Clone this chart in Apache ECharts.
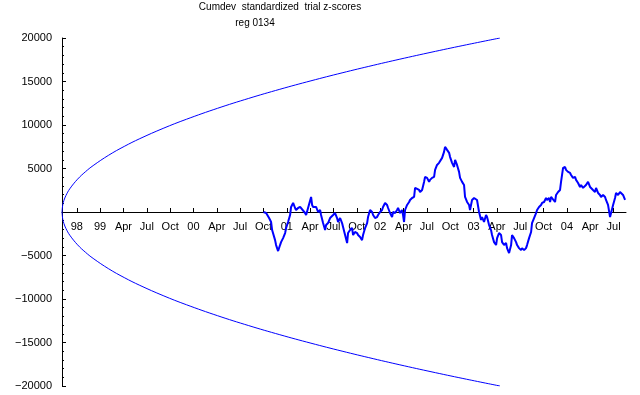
<!DOCTYPE html>
<html>
<head>
<meta charset="utf-8">
<script src="https://cdn.jsdelivr.net/npm/echarts@6/dist/echarts.min.js"></script>
<style>
  html, body { margin: 0; padding: 0; background: #fff; }
  #chart { width: 640px; height: 395px; }
</style>
</head>
<body>
<div id="chart"></div>
<script>
// x values are months counted from Jan 1998
var tickMonths = [9, 12, 15, 18, 21, 24, 27, 30, 33, 36, 39, 42, 45, 48, 51, 54, 57, 60, 63, 66, 69, 72, 75, 78];
var tickLabels = ['98', '99', 'Apr', 'Jul', 'Oct', '00', 'Apr', 'Jul', 'Oct', '01', 'Apr', 'Jul', 'Oct',
                  '02', 'Apr', 'Jul', 'Oct', '03', 'Apr', 'Jul', 'Oct', '04', 'Apr', 'Jul'];

// envelope (upper branch, lower branch is its mirror)
var envMonth = [7.1, 7.2, 7.35, 7.6, 8.1, 9.1, 10.1, 11.1, 13.1, 15.1, 17.1, 20.1, 23.1, 27.1, 31.1, 35.1,
                39.1, 43.1, 47.1, 51.1, 55.1, 59.1, 63.4];
var envValue = [0, 843, 1333, 1885, 2666, 3770, 4617, 5331, 6529, 7539, 8429, 9611, 10662, 11921, 13058, 14105,
                15078, 15993, 16858, 17681, 18467, 19221, 20000];

// cumulative deviation
var walkMonth = [33.0, 33.08, 33.34, 33.72, 33.98, 34.11, 34.49, 34.62, 34.88, 35.13, 35.26, 35.52, 35.78, 35.91,
  36.16, 36.42, 36.55, 36.81, 37.06, 37.19, 37.45, 37.71, 37.83, 38.35, 38.48, 38.73, 39.12, 39.25, 39.38, 39.63,
  39.76, 40.02, 40.28, 40.40, 40.66, 40.92, 41.05, 41.30, 41.56, 41.69,
  41.95, 42.20, 42.46, 42.59, 42.85, 43.10, 43.23, 43.49, 43.75, 43.87, 44.13, 44.39, 44.52, 44.77, 45.03, 45.16,
  45.42, 45.67, 45.80, 46.06, 46.32, 46.44, 46.70, 46.96, 47.09, 47.34, 47.60, 47.73, 47.99, 48.24, 48.37, 48.63,
  48.89, 49.02, 49.27, 49.53, 49.66, 49.92, 50.17, 50.30, 50.56, 50.81, 50.94,
  51.07, 51.20, 51.46, 51.72, 51.84, 52.10, 52.36, 52.49, 52.74, 53.00, 53.13, 53.39, 53.64, 53.77, 54.03, 54.29,
  54.41, 54.67, 54.93, 55.06, 55.31, 55.57, 55.70, 55.96, 56.21, 56.34, 56.60, 56.86, 56.98, 57.24, 57.50, 57.63,
  57.88, 58.14, 58.27, 58.53, 58.78, 58.91, 59.17, 59.43, 59.55, 59.81, 60.07, 60.20,
  60.45, 60.71, 60.97, 61.10, 61.35, 61.61, 61.74, 62.00, 62.25, 62.38, 62.64, 62.90, 63.03, 63.28, 63.54, 63.67,
  63.93, 64.18, 64.31, 64.57, 64.83, 64.95, 65.21, 65.47, 65.60, 65.85, 66.11, 66.24, 66.50, 66.75, 66.88, 67.14,
  67.40, 67.52, 67.78, 68.04, 68.17, 68.42, 68.68, 68.81, 69.07, 69.32, 69.45, 69.71,
  69.84, 69.97, 70.22, 70.48, 70.61, 70.87, 71.12, 71.25, 71.51, 71.77, 71.89, 72.15, 72.41, 72.54, 72.79, 73.05,
  73.18, 73.44, 73.69, 73.82, 74.08, 74.33, 74.46, 74.72, 74.98, 75.11, 75.36, 75.62, 75.75, 76.01, 76.26, 76.39,
  76.65, 76.91, 77.03, 77.29, 77.55, 77.68, 77.94, 78.19, 78.32, 78.58, 78.83, 78.96, 79.22, 79.48];
var walkValue = [0, -115, -115, -690, -1150, -2070, -3230, -3800, -4490, -3800, -3460, -3000, -2420, -1840,
  -1150, -350, 580, 1040, 460, 230, 460, 580, 460, -115, -350, 460, 1730, 810, 580, 460,
  580, 0, 230, -350, -1270, -2070, -1500, -1270, -690, -580,
  -350, -115, -690, -1150, -690, -1270, -1730, -2650, -3570, -2420, -2070, -1840, -2650, -2300, -2420, -2650,
  -2880, -3230, -2650, -1840, -1270, -580, 230, 0, -350, -690, -580, -350, 0, 230, 580, 1040,
  810, 460, -115, -580, 0, -115, 230, 460, -115, 230, -350,
  -1150, 230, 810, 1150, 1380, 1610, 1730, 2770, 2880, 2530, 2300, 2530, 3460, 4030, 3920, 3460,
  3690, 3920, 4030, 4840, 5410, 5650, 5760, 6220, 6910, 7490, 7140, 6800, 6340, 5650, 5180, 5990,
  5410, 4610, 3920, 3460, 3110, 1730, 1150, 810, 230, 1380, 1610, 1730,
  1380, 0, -920, -580, -1150, -350, -580, -1500, -2070, -2650, -3460, -3800, -3000, -2420, -2650, -3460,
  -3800, -3570, -4150, -4720, -3800, -2650, -3000, -3460, -3800, -4150, -4380, -4150, -4380, -4150, -3800, -3000,
  -2300, -1270, -690, -115, 230, 580, 810, 1040, 1150, 1610, 1380, 1610,
  1150, 1730, 1610, 1150, 1960, 2300, 2530, 3460, 5070, 5180, 4840, 4610, 4490, 4260, 3920, 4030,
  3690, 3340, 2880, 3110, 2770, 2880, 3110, 3460, 2880, 2770, 2530, 2300, 2770, 2190, 1960, 1730,
  1960, 1730, 1380, 810, -580, -115, 810, 1610, 2190, 1960, 2300, 2190, 1960, 1380];

var chart = echarts.init(document.getElementById('chart'));

var upper = envMonth.map(function (m, i) { return [m, envValue[i]]; });
var lower = envMonth.map(function (m, i) { return [m, -envValue[i]]; });
var walk = walkMonth.map(function (m, i) { return [m, walkValue[i]]; });

var font = 'Liberation Sans, Arial, sans-serif';

chart.setOption({
    animation: false,
    backgroundColor: '#fff',
    grid: { left: 62, right: 14, top: 38, bottom: 9, containLabel: false, outerBoundsMode: 'none' },
    graphic: [
        { type: 'text', x: 280, y: 7, style: { text: 'Cumdev  standardized  trial z-scores', font: '10px ' + font, fill: '#000', textAlign: 'center', textVerticalAlign: 'middle' } },
        { type: 'text', x: 255, y: 23, style: { text: 'reg 0134', font: '10px ' + font, fill: '#000', textAlign: 'center', textVerticalAlign: 'middle' } }
    ],
    xAxis: {
        type: 'value',
        min: 7.1,
        max: 79.6,
        position: 'bottom',
        offset: -174,  // grid is 348 high, so this sits the axis on the zero line
        splitLine: { show: false },
        axisLine: { onZero: false, lineStyle: { color: '#000', width: 1 } },
        axisTick: { inside: true, length: 4, customValues: tickMonths, lineStyle: { color: '#000' } },
        axisLabel: {
            customValues: tickMonths,
            margin: 9,
            color: '#000',
            fontSize: 11,
            fontFamily: font,
            formatter: function (v) {
                var i = tickMonths.indexOf(v);
                return i >= 0 ? tickLabels[i] : '';
            }
        }
    },
    yAxis: {
        type: 'value',
        min: -20000,
        max: 20000,
        interval: 5000,
        splitLine: { show: false },
        axisLine: { show: true, onZero: false, lineStyle: { color: '#000', width: 1 } },
        axisTick: { show: true, inside: true, length: 4, lineStyle: { color: '#000' } },
        minorTick: { show: true, splitNumber: 5, length: 2, lineStyle: { color: '#000' } },
        axisLabel: {
            margin: 10,
            color: '#000',
            fontSize: 11,
            fontFamily: font,
            formatter: function (v) {
                if (v === 0) return '';
                return v < 0 ? '\u2212' + (-v) : String(v);
            }
        }
    },
    series: [
        { type: 'line', data: upper, smooth: 0.4, showSymbol: false, lineStyle: { color: '#0000ff', width: 1 } },
        { type: 'line', data: lower, smooth: 0.4, showSymbol: false, lineStyle: { color: '#0000ff', width: 1 } },
        { type: 'line', data: walk, showSymbol: false, lineStyle: { color: '#0000ff', width: 2 } }
    ]
});
</script>
</body>
</html>
